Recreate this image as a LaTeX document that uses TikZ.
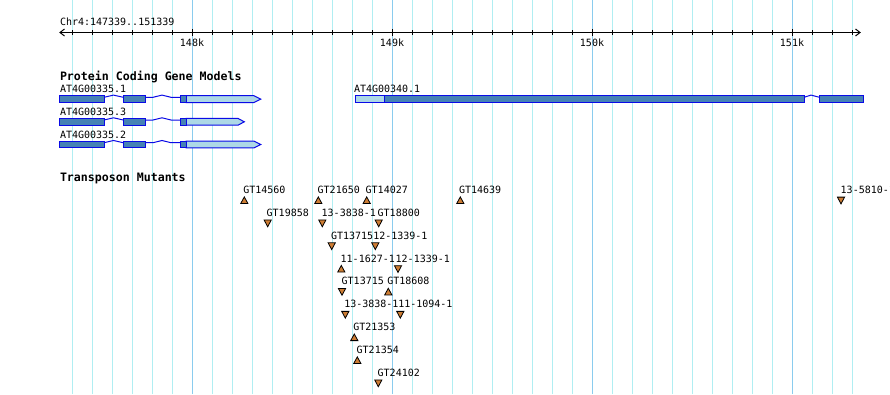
\documentclass[tikz,border=0pt]{standalone}
\usepackage{fontspec}
\newfontfamily\gbmono{DejaVu Sans Mono}
\definecolor{gridc}{RGB}{176,238,242}
\definecolor{gridmaj}{RGB}{138,204,238}
\definecolor{exonc}{RGB}{70,130,180}
\definecolor{utrc}{RGB}{173,216,230}
\definecolor{edgec}{RGB}{10,10,230}
\definecolor{tric}{RGB}{205,125,52}
\tikzset{
  gtxt/.style={inner sep=0pt,outer sep=0pt,font=\gbmono\fontsize{10}{12}\selectfont},
  gbold/.style={inner sep=0pt,outer sep=0pt,font=\gbmono\bfseries\fontsize{11.6}{13}\selectfont},
  gline/.style={draw=gridc,line width=1pt},
  gmaj/.style={draw=gridmaj,line width=1pt},
  axisline/.style={draw=black,line width=1pt},
  exonbox/.style={fill=exonc,draw=edgec,line width=1pt},
  utrbox/.style={fill=utrc,draw=edgec,line width=1pt},
  intron/.style={draw=edgec,line width=1pt},
  tri/.style={fill=tric,draw=black,line width=0.8pt,line join=miter}
}
\begin{document}
\begin{tikzpicture}[x=1pt,y=-1pt]
\useasboundingbox (0,0) rectangle (890,394);
\clip (0,0) rectangle (890,394);
\fill[white] (0,0) rectangle (890,394);
% grid
\foreach \k in {0,...,39}{
  \draw[gline] ({72+20*\k},0) -- ({72+20*\k},394);
}
\foreach \gx in {192,392,592,792}{
  \draw[gmaj] (\gx,0) -- (\gx,394);
}
% axis
\node[gtxt,anchor=base west] (chr) at (60,25) {Chr4:147339..151339};
\coordinate (axL) at (60,32.5);
\coordinate (axR) at (860,32.5);
\draw[axisline] (axL) -- (axR);
\draw[axisline] (64.5,29) -- (axL) -- (64.5,36);
\draw[axisline] (855.5,29) -- (axR) -- (855.5,36);
\foreach \k in {0,...,39}{
  \draw[axisline] ({72+20*\k},30) -- ({72+20*\k},35);
}
\foreach \gx/\lab in {192/148k,392/149k,592/150k,792/151k}{
  \draw[axisline] (\gx,29) -- (\gx,36);
  \node[gtxt,anchor=base] (tk\lab) at (\gx,46.5) {\lab};
}
% gene models
\node[gbold,anchor=base west] (pcgm) at (60,80) {Protein Coding Gene Models};
\node[gtxt,anchor=base west] (g1) at (60,92.7) {AT4G00335.1};
\node[gtxt,anchor=base west] (g3) at (60,115.4) {AT4G00335.3};
\node[gtxt,anchor=base west] (g2) at (60,138) {AT4G00335.2};
\node[gtxt,anchor=base west] (g4) at (354,92.7) {AT4G00340.1};
\foreach \yt/\ue/\tip in {95.7/254/260.7,118.4/238/244.3,141.1/254/260.7}{
  \draw[intron] (104,{\yt+1.6}) -- (113.5,{\yt-0.6}) -- (123.3,{\yt+1.6});
  \draw[intron] (145.5,{\yt+1.6}) -- (153,{\yt+1.6}) -- (162,{\yt-0.6}) -- (171,{\yt+1.6}) -- (180,{\yt+1.6});
  \draw[exonbox] (59,\yt) rectangle (104,{\yt+6.8});
  \draw[exonbox] (123.3,\yt) rectangle (145.5,{\yt+6.8});
  \draw[utrbox] (186,\yt) -- (\ue,\yt) -- (\tip,{\yt+3.4}) -- (\ue,{\yt+6.8}) -- (186,{\yt+6.8}) -- cycle;
  \draw[exonbox] (180,\yt) rectangle (186,{\yt+6.8});
}
\draw[intron] (804,97.3) -- (811,95.1) -- (819.5,97.3);
\draw[utrbox] (355,95.7) rectangle (384.4,102.5);
\draw[exonbox] (384.4,95.7) rectangle (804,102.5);
\draw[exonbox] (819.5,95.7) rectangle (863,102.5);
% transposon mutants
\node[gbold,anchor=base west] (tm) at (60,181) {Transposon Mutants};
\foreach \lx/\tx/\r/\d/\t [count=\i] in {
  243.3/244.3/0/u/GT14560, 317.7/318.3/0/u/GT21650, 365.7/366.7/0/u/GT14027,
  459/460.3/0/u/GT14639, 840.7/841/0/d/13-5810-1,
  266.7/267.7/1/d/GT19858, 321.7/322.3/1/d/13-3838-1, 377.7/378.7/1/d/GT18800,
  331/331.7/2/d/GT13715, 373.3/375.3/2/d/12-1339-1,
  340.7/341.3/3/u/11-1627-1, 395.7/398/3/d/12-1339-1,
  341.7/342/4/d/GT13715, 387.3/388.3/4/u/GT18608,
  344.3/345.3/5/d/13-3838-1, 398.3/400.3/5/d/11-1094-1,
  353.3/354.3/6/u/GT21353,
  356.7/357.3/7/u/GT21354,
  377.7/378.3/8/d/GT24102}{
  \pgfmathsetmacro{\b}{193.5+22.85*\r}
  \node[gtxt,anchor=base west] (m\i) at (\lx,\b) {\t};
  \if\d u
    \draw[tri] (\tx,{\b+3.4}) -- ({\tx+3.6},{\b+10}) -- ({\tx-3.6},{\b+10}) -- cycle;
  \else
    \draw[tri] ({\tx-3.6},{\b+3.6}) -- ({\tx+3.6},{\b+3.6}) -- (\tx,{\b+10.4}) -- cycle;
  \fi
}
\end{tikzpicture}
\end{document}
